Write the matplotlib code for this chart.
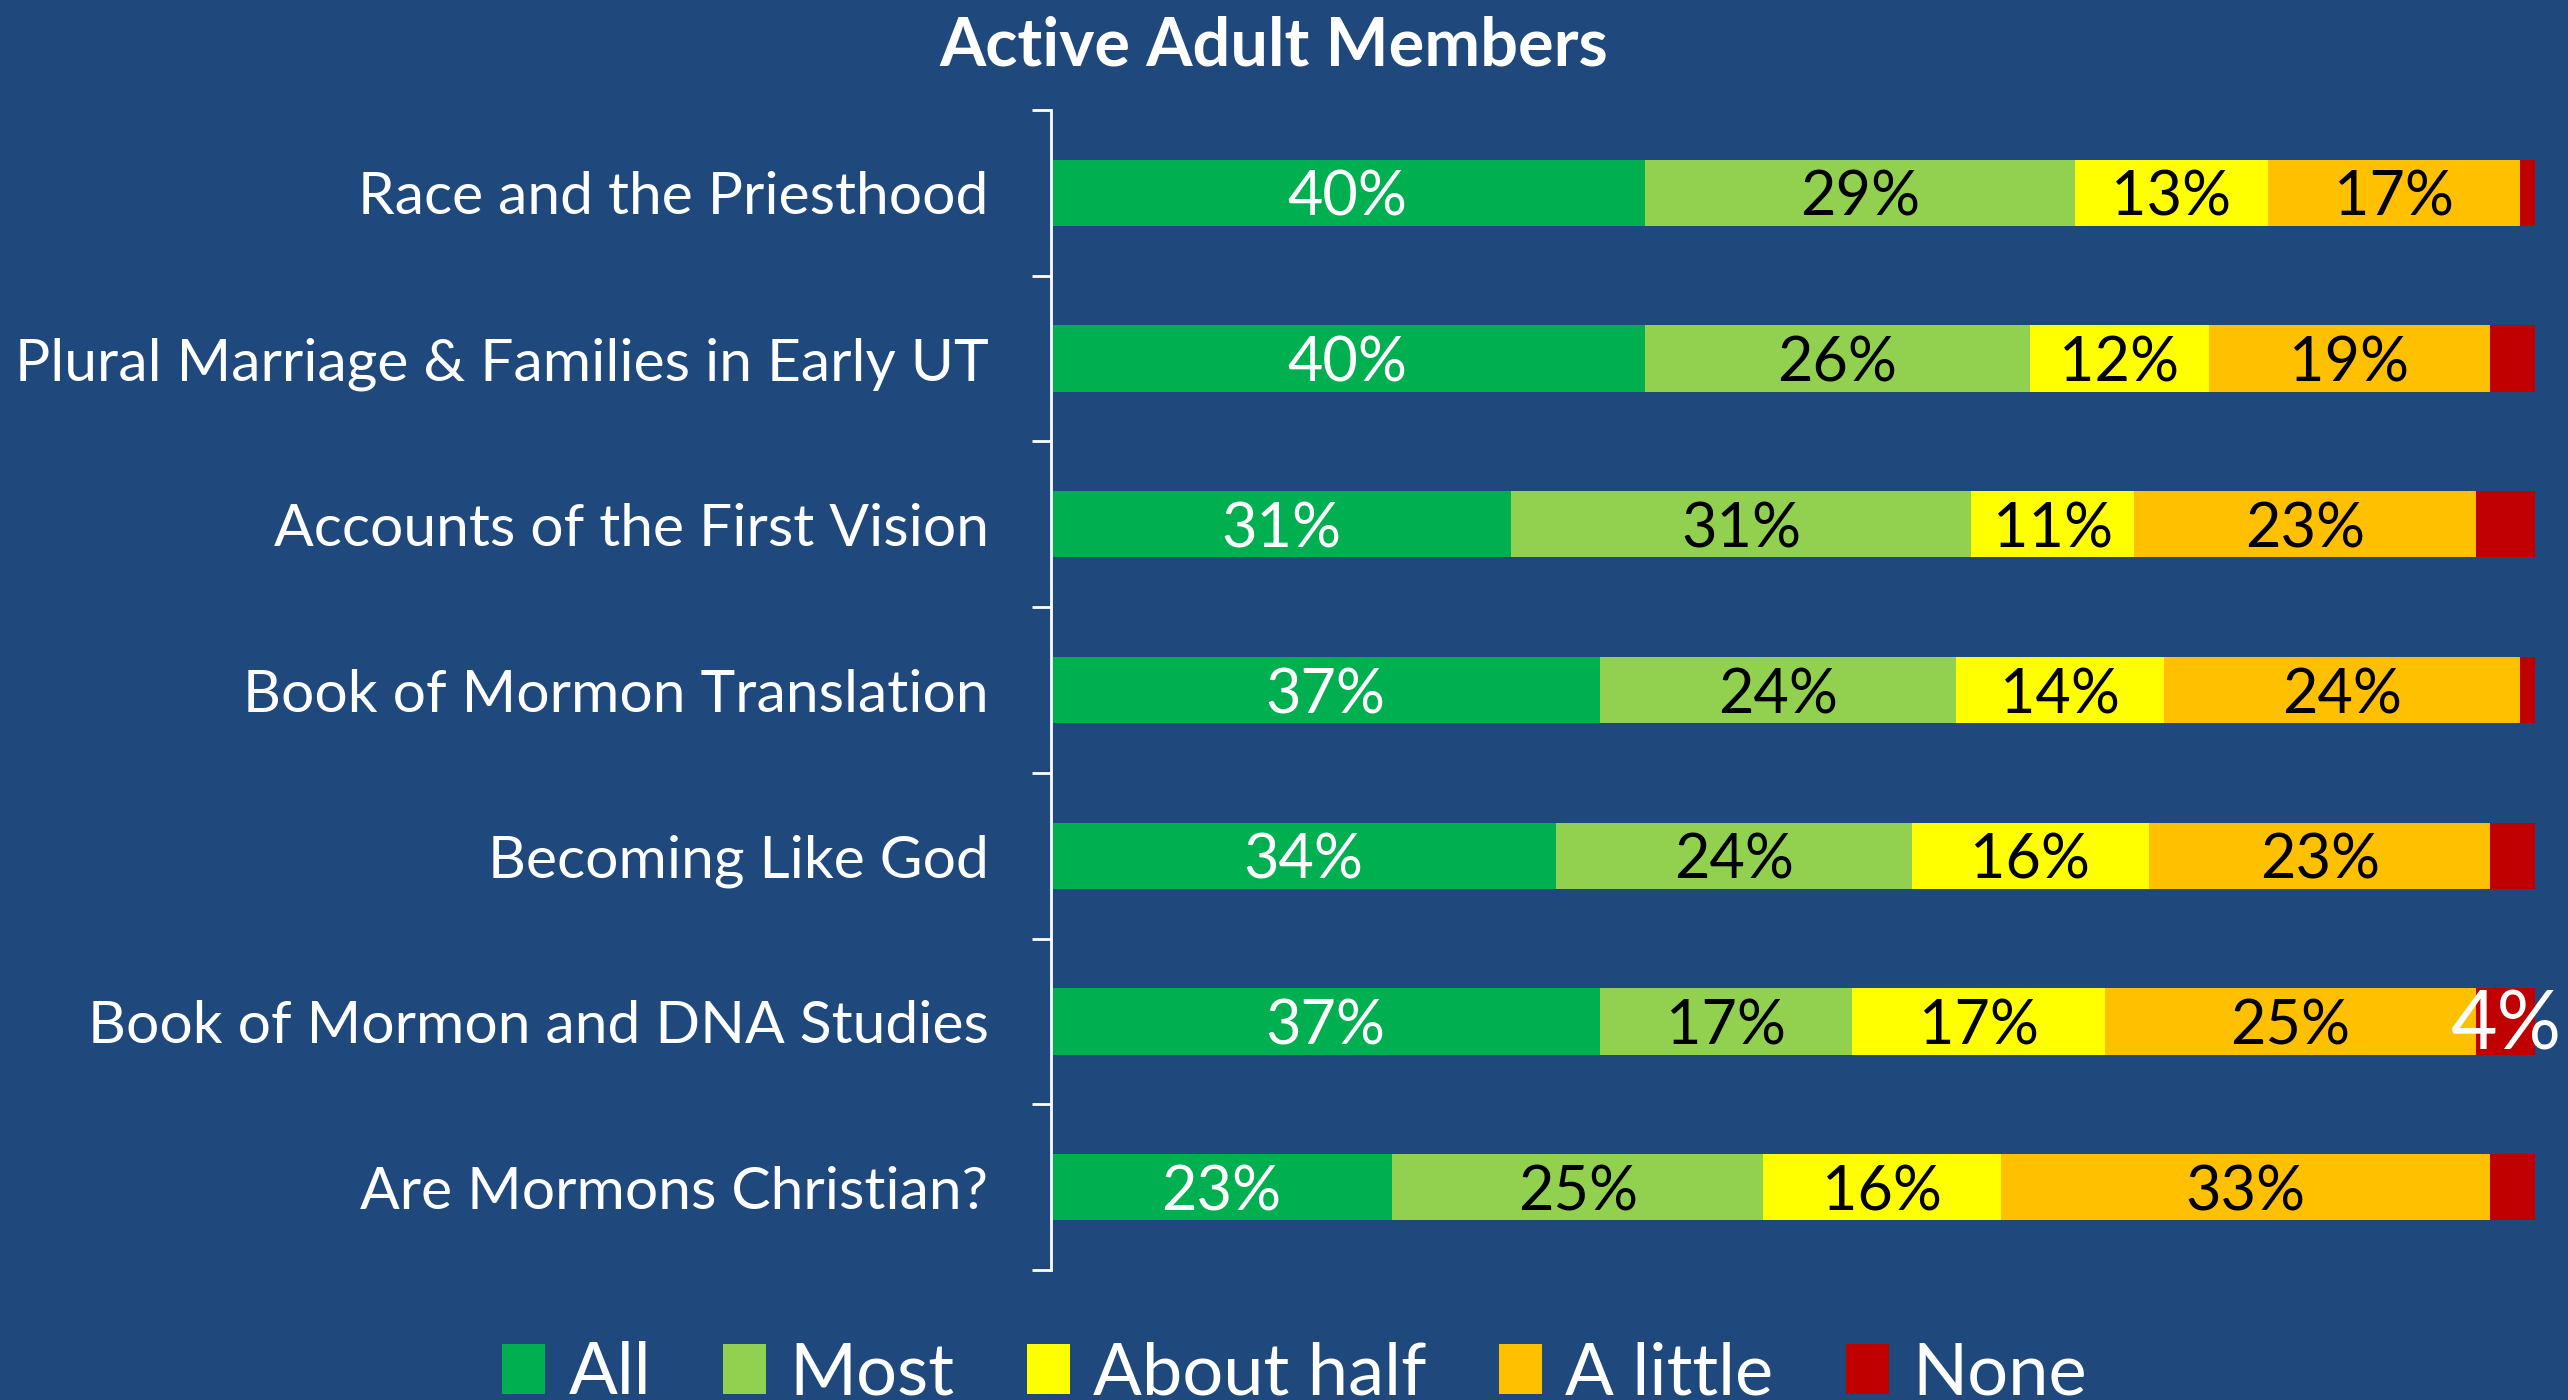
import matplotlib
matplotlib.use("Agg")
import matplotlib.pyplot as plt
from matplotlib.patches import Patch

categories = [
    "Race and the Priesthood",
    "Plural Marriage & Families in Early UT",
    "Accounts of the First Vision",
    "Book of Mormon Translation",
    "Becoming Like God",
    "Book of Mormon and DNA Studies",
    "Are Mormons Christian?",
]
series_names = ["All", "Most", "About half", "A little", "None"]
all_vals = [40, 40, 31, 37, 34, 37, 23]
most_vals = [29, 26, 31, 24, 24, 17, 25]
half_vals = [13, 12, 11, 14, 16, 17, 16]
little_vals = [17, 19, 23, 24, 23, 25, 33]
none_vals = [1, 3, 4, 1, 3, 4, 3]
none_labels = ["", "", "", "", "", "4%", ""]

colors = ["#00B050", "#92D050", "#FFFF00", "#FFC000", "#C00000"]
text_colors = ["white", "black", "black", "black", "white"]
bg = "#1F497D"
FONT = "Lato"

fig = plt.figure(figsize=(25.68, 14), dpi=100, facecolor=bg)
ax = fig.add_axes([1051 / 2568, 130 / 1400, 1484 / 2568, 1160 / 1400])
ax.set_facecolor(bg)

series = [all_vals, most_vals, half_vals, little_vals, none_vals]
y = list(range(len(categories)))
left = [0] * len(categories)
for s, (vals, col, tcol) in enumerate(zip(series, colors, text_colors)):
    bars = ax.barh(y, vals, left=left, height=0.4, color=col, edgecolor="none")
    for i, (b, v) in enumerate(zip(bars, vals)):
        cx = b.get_x() + b.get_width() / 2
        cy = b.get_y() + b.get_height() / 2
        if s < 4:
            lab = f"{v}%"
            fs = 44
        else:
            lab = none_labels[i]
            fs = 58
        if lab:
            ax.annotate(lab, (cx, cy), xytext=(0, -4), textcoords="offset points",
                        ha="center", va="center", color=tcol,
                        fontsize=fs, family=FONT, annotation_clip=False)
    left = [l + v for l, v in zip(left, vals)]

ax.set_xlim(0, 100)
ax.set_ylim(len(categories) - 0.5, -0.5)
ax.set_xticks([])
for sp in ["top", "right", "bottom"]:
    ax.spines[sp].set_visible(False)
ax.spines["left"].set_color("white")
ax.spines["left"].set_linewidth(2)

ax.set_yticks([i - 0.5 for i in range(len(categories) + 1)])
ax.set_yticklabels([])
ax.tick_params(axis="y", which="major", length=14, width=2, color="white", direction="out")
ax.set_yticks(y, minor=True)
ax.set_yticklabels(categories, minor=True)
ax.tick_params(axis="y", which="minor", length=0, pad=45, labelcolor="white", labelsize=42.3)
for t in ax.get_yticklabels(minor=True):
    t.set_family(FONT)

fig.text(0.496, 1 - 47 / 1400, "Active Adult Members", ha="center", va="center",
         color="white", fontsize=48, fontweight="bold", family=FONT)

handles = [Patch(facecolor=c, edgecolor="none") for c in colors]
leg = fig.legend(handles, series_names, loc="upper center", bbox_to_anchor=(0.504, 0.042),
                 ncol=5, frameon=False, prop={"family": FONT, "size": 52},
                 handlelength=0.6, handleheight=0.7, handletextpad=0.32,
                 columnspacing=1.0, borderpad=0, borderaxespad=0)
for t in leg.get_texts():
    t.set_color("white")

fig.savefig("out.png", dpi=100, facecolor=bg)
